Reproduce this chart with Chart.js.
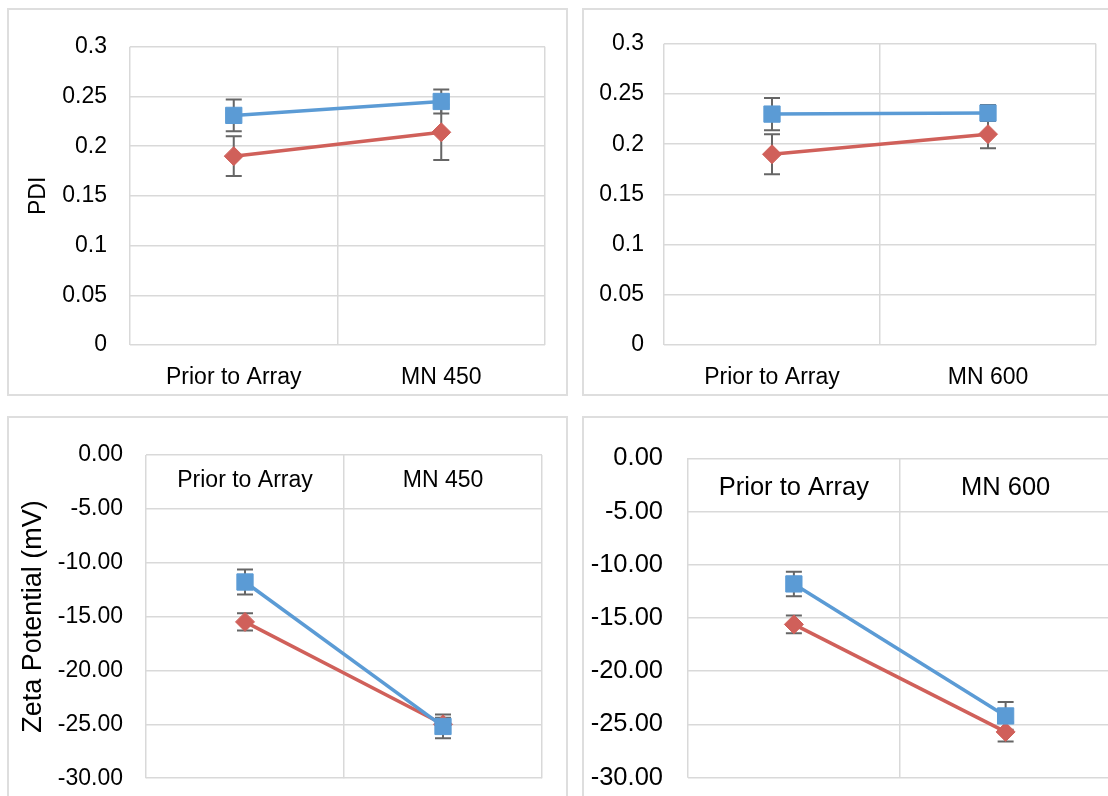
<!DOCTYPE html>
<html>
<head>
<meta charset="utf-8">
<script src="https://cdn.jsdelivr.net/npm/chart.js@4.4.1/dist/chart.umd.min.js"></script>
<style>
  body { margin: 0; background: #fff; width: 1108px; height: 796px; overflow: hidden; position: relative; }
  .panel { position: absolute; border: 2px solid #dedede; box-sizing: border-box; background: #fff; }
  canvas { position: absolute; }
</style>
</head>
<body>
<div class="panel" style="left:7px;top:8px;width:561px;height:388px"></div>
<div class="panel" style="left:582px;top:8px;width:560px;height:388px"></div>
<div class="panel" style="left:7px;top:416px;width:561px;height:420px"></div>
<div class="panel" style="left:582px;top:416px;width:560px;height:420px"></div>
<canvas id="pdi450"></canvas>
<canvas id="pdi600"></canvas>
<canvas id="zeta450"></canvas>
<canvas id="zeta600"></canvas>

<script>
/* ================= DATA ================= */
const cats450 = ["Prior to Array", "MN 450"];
const cats600 = ["Prior to Array", "MN 600"];

const pdiTicks = ["0", "0.05", "0.1", "0.15", "0.2", "0.25", "0.3"];
const zetaTicks = ["-30.00", "-25.00", "-20.00", "-15.00", "-10.00", "-5.00", "0.00"];

const pdi450Blue = [0.231, 0.245];
const pdi450BlueErr = [0.016, 0.012];
const pdi450Red = [0.190, 0.214];
const pdi450RedErr = [0.020, 0.028];

const pdi600Blue = [0.230, 0.231];
const pdi600BlueErr = [0.016, 0.008];
const pdi600Red = [0.190, 0.210];
const pdi600RedErr = [0.020, 0.014];

const zeta450Blue = [-11.8, -25.2];
const zeta450BlueErr = [1.15, 1.1];
const zeta450Red = [-15.5, -25.0];
const zeta450RedErr = [0.8, 0.6];

const zeta600Blue = [-11.8, -24.2];
const zeta600BlueErr = [1.15, 1.3];
const zeta600Red = [-15.6, -25.7];
const zeta600RedErr = [0.83, 0.9];

/* ================= STYLE ================= */
const BLUE = "#5b9bd5";
const RED = "#d0605a";
const ERR = "#666666";
const GRID = "#d9d9d9";
const FONT = "'Liberation Sans', Arial, sans-serif";

/* ================= ERROR BARS ================= */
const errorBars = {
    id: "errorBars",
    beforeDatasetsDraw(chart) {
        const ctx = chart.ctx;
        const y = chart.scales.y;
        ctx.save();
        ctx.strokeStyle = ERR;
        ctx.lineWidth = 2;
        chart.data.datasets.forEach((ds, i) => {
            chart.getDatasetMeta(i).data.forEach((pt, j) => {
                const v = ds.data[j], e = ds.errors[j];
                const y1 = y.getPixelForValue(v + e);
                const y2 = y.getPixelForValue(v - e);
                ctx.beginPath();
                ctx.moveTo(pt.x, y1); ctx.lineTo(pt.x, y2);
                ctx.moveTo(pt.x - 8, y1); ctx.lineTo(pt.x + 8, y1);
                ctx.moveTo(pt.x - 8, y2); ctx.lineTo(pt.x + 8, y2);
                ctx.stroke();
            });
        });
        ctx.restore();
    }
};

function series(label, data, errors, color, style, radius) {
    return {
        label, data, errors,
        borderColor: color,
        backgroundColor: color,
        borderWidth: 3.5,
        pointStyle: style,
        pointRadius: radius,
        pointBorderWidth: 1,
        pointBorderColor: color,
        pointBackgroundColor: color,
        tension: 0
    };
}

/* ================= CHART ================= */
function buildChart(cv, box, plot, cats, blue, red, y) {
    const top = y.xTop;
    return new Chart(cv, {
        type: "line",
        data: {
            labels: cats,
            datasets: [
                series("blue", blue[0], blue[1], BLUE, "rect", 11.5),
                series("red", red[0], red[1], RED, "rectRot", 9.5)
            ]
        },
        options: {
            responsive: false,
            maintainAspectRatio: false,
            animation: false,
            devicePixelRatio: 1,
            layout: {
                padding: {
                    left: 0,
                    top: plot.t - box.y,
                    right: box.x + box.w - plot.r,
                    bottom: top ? box.y + box.h - plot.b : 0
                }
            },
            plugins: { legend: { display: false }, tooltip: { enabled: false } },
            scales: {
                x: {
                    position: top ? "top" : "bottom",
                    offset: true,
                    grid: { offset: true, color: GRID, lineWidth: 1.5, drawTicks: false },
                    border: { display: false },
                    ticks: {
                        color: "#000",
                        font: { family: FONT, size: y.xFont },
                        padding: y.xPad,
                        mirror: !!top,
                        maxRotation: 0,
                        autoSkip: false
                    },
                    afterFit: s => { s.height = top ? 0 : box.y + box.h - plot.b; }
                },
                y: {
                    min: y.min,
                    max: y.max,
                    grid: { color: GRID, lineWidth: 1.5, drawTicks: false },
                    border: { display: false },
                    ticks: {
                        stepSize: y.step,
                        color: "#000",
                        font: { family: FONT, size: y.font },
                        padding: y.pad,
                        callback: (v, i) => y.labels[i]
                    },
                    title: {
                        display: !!y.title,
                        text: y.title,
                        color: "#000",
                        font: { family: FONT, size: y.titleFont },
                        padding: { top: y.titlePad, bottom: 0 }
                    },
                    afterFit: s => { s.width = plot.l - box.x; }
                }
            }
        },
        plugins: [errorBars]
    });
}

function makeChart(id, box, plot, cats, blue, red, y) {
    const cv = document.getElementById(id);
    cv.width = box.w;
    cv.height = box.h;
    cv.style.left = box.x + "px";
    cv.style.top = box.y + "px";
    let chart = buildChart(cv, box, plot, cats, blue, red, y);

    // make the plot bottom land where the reference has it
    const diff = (plot.b - box.y) - chart.chartArea.bottom;
    if (Math.abs(diff) > 0.5) {
        chart.destroy();
        cv.width = box.w;
        cv.height = Math.round(box.h + diff);
        cv.style.width = box.w + "px";
        cv.style.height = cv.height + "px";
        chart = buildChart(cv, { ...box, h: cv.height }, { ...plot, b: plot.b + diff }, cats, blue, red, y);
    }
}

makeChart("pdi450",
    { x: 9, y: 10, w: 557, h: 384 },
    { l: 130, r: 545, t: 43, b: 345 },
    cats450, [pdi450Blue, pdi450BlueErr], [pdi450Red, pdi450RedErr],
    { min: 0, max: 0.3, step: 0.05, labels: pdiTicks, font: 23, pad: 23,
      xFont: 23, xPad: 19, title: "PDI", titleFont: 23, titlePad: 16 });

makeChart("pdi600",
    { x: 584, y: 10, w: 540, h: 384 },
    { l: 664, r: 1096, t: 43, b: 345 },
    cats600, [pdi600Blue, pdi600BlueErr], [pdi600Red, pdi600RedErr],
    { min: 0, max: 0.3, step: 0.05, labels: pdiTicks, font: 23, pad: 20,
      xFont: 23, xPad: 19 });

makeChart("zeta450",
    { x: 9, y: 418, w: 557, h: 378 },
    { l: 146, r: 542, t: 452, b: 778 },
    cats450, [zeta450Blue, zeta450BlueErr], [zeta450Red, zeta450RedErr],
    { min: -30, max: 0, step: 5, labels: zetaTicks, font: 23, pad: 23,
      xTop: true, xFont: 23, xPad: 12, title: "Zeta Potential (mV)", titleFont: 27, titlePad: 8 });

makeChart("zeta600",
    { x: 584, y: 418, w: 540, h: 378 },
    { l: 688, r: 1114, t: 452, b: 778 },
    cats600, [zeta600Blue, zeta600BlueErr], [zeta600Red, zeta600RedErr],
    { min: -30, max: 0, step: 5, labels: zetaTicks, font: 25.5, pad: 25,
      xTop: true, xFont: 25.5, xPad: 14 });
</script>
</body>
</html>
